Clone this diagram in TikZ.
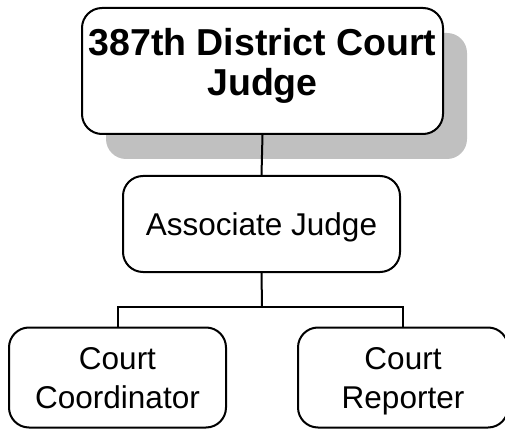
\documentclass[tikz,border=0pt]{standalone}
\usepackage{fontspec}
\setmainfont{Liberation Sans}
\usetikzlibrary{shadows}
\definecolor{shadowgray}{RGB}{192,192,192}
\tikzset{
  box/.style={draw=black, line width=2pt, fill=white, rounded corners=20pt, align=center, inner sep=0pt},
  conn/.style={draw=black, line width=2pt},
  big/.style={font=\fontsize{37.5}{40}\selectfont\bfseries},
  small/.style={font=\fontsize{31.5}{39}\selectfont},
}
\begin{document}
\begin{tikzpicture}[x=1pt,y=1pt]
\useasboundingbox (0,0) rectangle (505,-430);
\node[box, big, minimum width=361pt, minimum height=126pt, text depth=19pt,
  general shadow={fill=shadowgray, draw=none, shadow xshift=24pt, shadow yshift=-25pt}]
  (top) at (262.5,-71) {387th District Court\\Judge};
\node[box, small, minimum width=277pt, minimum height=96pt, text depth=0pt]
  (assoc) at (261.5,-224) {Associate Judge};
\node[box, small, minimum width=217pt, minimum height=100pt, text depth=0pt]
  (coord) at (117.5,-377.5) {Court\\Coordinator};
\node[box, small, minimum width=210pt, minimum height=100pt, text depth=0pt]
  (rep) at (403,-377.5) {Court\\Reporter};
\coordinate (split) at (262,-307);
\draw[conn] (top.south) -- (assoc.north);
\draw[conn] (assoc.south) -- (split);
\draw[conn] (coord.north) |- (split) -| (rep.north);
\end{tikzpicture}
\end{document}
